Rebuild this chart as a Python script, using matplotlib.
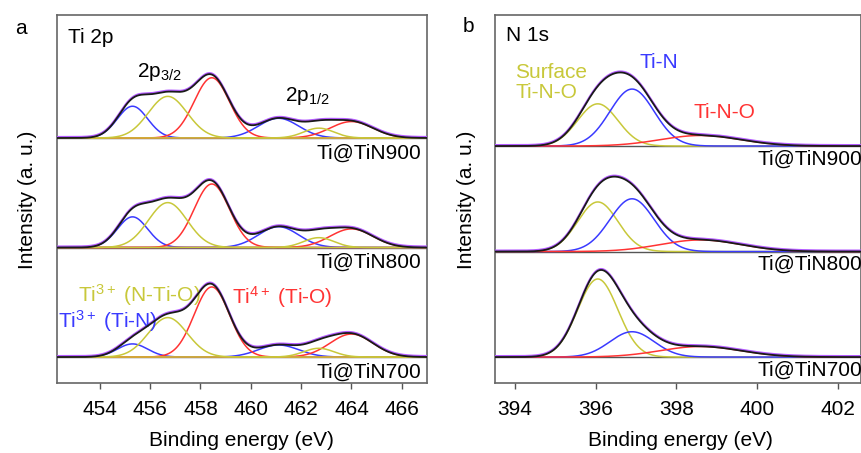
import numpy as np
from matplotlib import pyplot as plt

plt.rcParams["font.family"] = ["Liberation Sans", "DejaVu Sans"]
plt.rcParams["mathtext.fontset"] = "custom"
plt.rcParams["mathtext.rm"] = "Liberation Sans"
plt.rcParams["mathtext.it"] = "Liberation Sans:italic"
plt.rcParams["font.size"] = 15

#Fitted peak parameters (center eV, sigma eV, height per sample)
samples = ["Ti@TiN900", "Ti@TiN800", "Ti@TiN700"]
offsets = [2, 1, 0]

ti_centers = [455.3, 456.7, 458.45, 461.1, 462.7, 464.0]
ti_sigma = [0.6, 0.77, 0.7, 0.8, 0.6, 0.85]
ti_colors = ["blue", "yellow", "red", "blue", "yellow", "red"]
ti_amp_900 = [0.29, 0.38, 0.55, 0.18, 0.09, 0.15]
ti_amp_800 = [0.28, 0.41, 0.58, 0.19, 0.09, 0.17]
ti_amp_700 = [0.12, 0.36, 0.64, 0.11, 0.08, 0.21]

n_centers = [396.05, 396.9, 398.6]
n_sigma = [0.5, 0.55, 1.0]
n_colors = ["yellow", "blue", "red"]
n_amp_900 = [0.40, 0.54, 0.10]
n_amp_800 = [0.47, 0.50, 0.11]
n_amp_700 = [0.74, 0.24, 0.10]

ti_ticks = [454, 456, 458, 460, 462, 464, 466]
n_ticks = [394, 396, 398, 400, 402]

col = {"blue": "#3a3aff", "yellow": "#c8c83a", "red": "#ff3333"}
fit_color = "#b45cff"
data_color = "#1a1a1a"

fig = plt.figure(figsize=(8.62, 4.53), dpi=100)
ax_a = fig.add_axes([57/862, 1-383/453, 370/862, 368/453])
ax_b = fig.add_axes([495/862, 1-383/453, 366/862, 368/453])

panels = [
    (ax_a, np.linspace(452.3, 467.0, 800), ti_centers, ti_sigma, ti_colors,
     [ti_amp_900, ti_amp_800, ti_amp_700], (452.3, 467.0), (-0.237, 3.123), ti_ticks, ["blue", "red", "yellow"]),
    (ax_b, np.linspace(393.5, 402.6, 800), n_centers, n_sigma, n_colors,
     [n_amp_900, n_amp_800, n_amp_700], (393.5, 402.58), (-0.246, 3.242), n_ticks, ["yellow", "blue", "red"]),
]

for ax, x, centers, sigma, colors, amps, xlim, ylim, ticks, order in panels:
    for s in range(3):
        off = offsets[s]
        ax.axhline(off, color="#555555", lw=1.0, zorder=1)
        total = np.zeros_like(x)
        comps = []
        for k in range(len(centers)):
            g = amps[s][k]*np.exp(-(x-centers[k])**2/(2*sigma[k]**2))
            total += g
            comps.append((colors[k], g))
        for c in order:
            for cc, g in comps:
                if cc == c:
                    ax.plot(x, off+g, color=col[c], lw=1.1, zorder=2)
        ax.plot(x, off+total+0.01, color=fit_color, lw=1.4, zorder=3)
        ax.plot(x, off+total, color=data_color, lw=1.3, zorder=4)
    ax.set_xlim(xlim)
    ax.set_ylim(ylim)
    ax.set_xticks(ticks)
    ax.set_yticks([])
    ax.tick_params(axis="x", direction="out", length=4, width=1, pad=8, labelsize=15, color="#555555")
    for sp in ax.spines.values():
        sp.set_color("#666666")
        sp.set_linewidth(1.2)

#Panel a annotations
ax_a.text(0.03, 0.94, "Ti 2p", transform=ax_a.transAxes, va="center", ha="left")
ax_a.text(455.47, 2.60, "2p$_{3/2}$", va="center", ha="left")
ax_a.text(461.34, 2.38, "2p$_{1/2}$", va="center", ha="left")
ax_a.text(453.13, 0.57, "Ti$^{3+}$ (N-Ti-O)", color=col["yellow"], va="center", ha="left")
ax_a.text(452.35, 0.33, "Ti$^{3+}$ (Ti-N)", color=col["blue"], va="center", ha="left")
ax_a.text(459.24, 0.55, "Ti$^{4+}$ (Ti-O)", color=col["red"], va="center", ha="left")
for s in range(3):
    ax_a.text(466.78, offsets[s]-0.135, samples[s], va="center", ha="right")

#Panel b annotations
ax_b.text(0.03, 0.945, "N 1s", transform=ax_b.transAxes, va="center", ha="left")
ax_b.text(394.0, 2.60, "Surface\nTi-N-O", color=col["yellow"], va="center", ha="left", linespacing=1.1)
ax_b.text(397.09, 2.79, "Ti-N", color=col["blue"], va="center", ha="left")
ax_b.text(398.42, 2.32, "Ti-N-O", color=col["red"], va="center", ha="left")
for s in range(3):
    ax_b.text(402.62, offsets[s]-0.125, samples[s], va="center", ha="right")

fig.text(21/862, 1-28/453, "a", fontsize=15, ha="center", va="center")
fig.text(468/862, 1-26/453, "b", fontsize=15, ha="center", va="center")
fig.text(28/862, 1-200/453, "Intensity (a. u.)", rotation=90, ha="center", va="center")
fig.text(466/862, 1-200/453, "Intensity (a. u.)", rotation=90, ha="center", va="center")
fig.text(241/862, 1-440/453, "Binding energy (eV)", ha="center", va="center")
fig.text(680/862, 1-440/453, "Binding energy (eV)", ha="center", va="center")

plt.savefig("out.png", dpi=100)
